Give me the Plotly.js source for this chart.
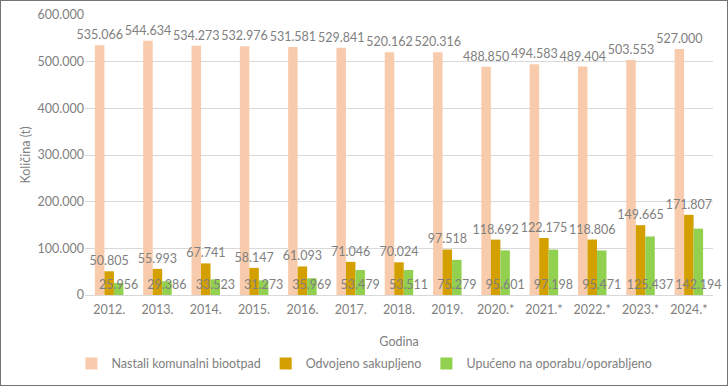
<!DOCTYPE html>
<html><head><meta charset="utf-8">
<script src="https://cdn.plot.ly/plotly-3.0.1.min.js"></script>
<style>
html,body{margin:0;padding:0;background:#fff;}
#chart{width:728px;height:386px;box-sizing:border-box;border:1px solid #6f7477;}
</style></head>
<body><div id="chart"></div>
<script>
const years = ['2012.','2013.','2014.','2015.','2016.','2017.','2018.','2019.','2020.*','2021.*','2022.*','2023.*','2024.*'];
const nastali = [535066,544634,534273,532976,531581,529841,520162,520316,488850,494583,489404,503553,527000];
const odvojeno = [50805,55993,67741,58147,61093,71046,70024,97518,118692,122175,118806,149665,171807];
const upuceno = [25956,29386,33523,31273,35969,53479,53511,75279,95601,97198,95471,125437,142194];
const seriesNames = ['Nastali komunalni biootpad','Odvojeno sakupljeno','Upućeno na oporabu/oporabljeno'];

const FONT = 'Lato, "Open Sans", sans-serif';
const GRAY = '#808080';
const lblFont = {family: FONT, size: 12.5, color: GRAY};

const traces = [
  {type:'bar', name:seriesNames[0], x:years, y:nastali, marker:{color:'#F8CBAD'},
   texttemplate:'%{y:,.0f}', textposition:'outside', textangle:0, constraintext:'none',
   outsidetextfont:lblFont, cliponaxis:false, hoverinfo:'skip'},
  {type:'bar', name:seriesNames[1], x:years, y:odvojeno, marker:{color:'#D4A000'},
   texttemplate:'%{y:,.0f}', textposition:'outside', textangle:0, constraintext:'none',
   outsidetextfont:lblFont, cliponaxis:false, hoverinfo:'skip'},
  {type:'bar', name:seriesNames[2], x:years, y:upuceno, marker:{color:'#92D050'},
   texttemplate:'%{y:,.0f}', textposition:'inside', insidetextanchor:'start', textangle:0, constraintext:'none',
   insidetextfont:lblFont, cliponaxis:false, hoverinfo:'skip'}
];

const layout = {
  width:726, height:384,
  margin:{l:84, r:14, t:14, b:90},
  separators:',.',
  paper_bgcolor:'#fff', plot_bgcolor:'#fff',
  font:{family:FONT, size:12.5, color:GRAY},
  barmode:'group', bargap:0.41, bargroupgap:0,
  showlegend:true,
  legend:{orientation:'h', x:0.097, xref:'container', y:0.055, yref:'container', yanchor:'middle',
          font:{family:FONT, size:12.5, color:GRAY}, itemwidth:30, traceorder:'normal'},
  xaxis:{type:'category', showgrid:false, showline:true, linecolor:'#d9d9d9', linewidth:1,
         ticks:'', ticklabelstandoff:3, tickfont:{family:FONT, size:12.5, color:GRAY},
         title:{text:'Godina', font:{family:FONT, size:12.5, color:GRAY}, standoff:27}},
  yaxis:{range:[0,600000], dtick:100000, tickformat:',.0f', showgrid:true, gridcolor:'#d9d9d9',
         zeroline:false, showline:false, ticks:'', tickfont:{family:FONT, size:12.5, color:GRAY},
         title:{text:'Količina (t)', font:{family:FONT, size:12.5, color:GRAY}, standoff:4}}
};

Plotly.newPlot('chart', traces, layout, {displayModeBar:false, staticPlot:true});
</script></body></html>
